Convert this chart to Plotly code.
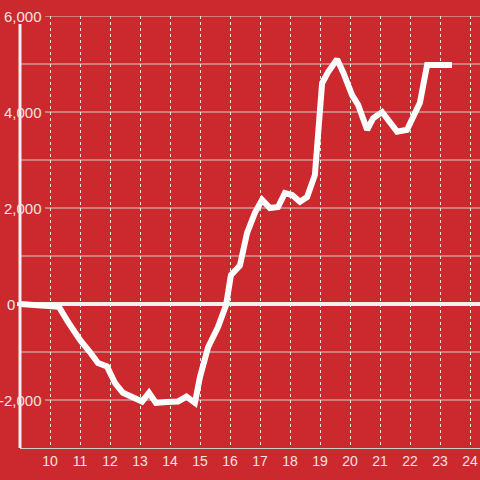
import plotly.graph_objects as go

# ---- data ----
x_vals = [9.0, 9.67, 10.3, 10.6, 11.0, 11.33, 11.6, 11.9, 12.17, 12.43, 12.73, 13.07,
          13.3, 13.53, 13.9, 14.27, 14.55, 14.83, 15.0, 15.27, 15.6, 15.87, 16.03, 16.33,
          16.57, 16.83, 17.07, 17.33, 17.6, 17.83, 18.07, 18.33, 18.57, 18.83, 19.07,
          19.27, 19.57, 19.77, 20.07, 20.27, 20.57, 20.77, 21.07, 21.33, 21.57, 21.9,
          22.1, 22.33, 22.57, 23.4]
y_vals = [0, -20, -60, -375, -750, -1000, -1230, -1300, -1650, -1850, -1950, -2030,
          -1850, -2060, -2040, -2030, -1930, -2060, -1520, -900, -480, -20, 600, 800,
          1480, 1900, 2170, 2000, 2020, 2310, 2270, 2130, 2230, 2690, 4600,
          4830, 5100, 4830, 4350, 4150, 3630, 3870, 4000, 3800, 3590, 3630,
          3900, 4190, 4980, 4980]

x_ticks = list(range(10, 25))
x_tick_labels = [str(v) for v in x_ticks]
y_grid = [-2000, -1000, 1000, 2000, 3000, 4000, 5000, 6000]
y_label_vals = [-2000, 0, 2000, 4000, 6000]
y_label_text = ["-2,000", "0", "2,000", "4,000", "6,000"]

BG = "#cc292e"
TXT = "#f3e2e2"
GRID = "#cfcfcf"

W, H = 480, 480
ML, MR, MT, MB = 20, 0, 16, 32
pw = W - ML - MR
ph = H - MT - MB

def px_to_paper_x(px):
    return (px - ML) / pw

def px_to_paper_y(py):
    return (H - MB - py) / ph

fig = go.Figure()
fig.add_trace(go.Scatter(x=x_vals, y=y_vals, mode="lines",
                         line=dict(color="#ffffff", width=6), hoverinfo="skip"))

shapes = []
for v in y_grid:
    start = px_to_paper_x(45) if v in y_label_vals else 0
    shapes.append(dict(type="line", xref="paper", yref="y", x0=start, x1=1, y0=v, y1=v,
                       line=dict(color=GRID, width=1), layer="below"))
# zero line
shapes.append(dict(type="line", xref="paper", yref="y", x0=px_to_paper_x(17), x1=1, y0=0, y1=0,
                   line=dict(color="#f4f0f0", width=4), layer="below"))
# left axis line
shapes.append(dict(type="line", xref="paper", yref="paper", x0=0, x1=0,
                   y0=0, y1=px_to_paper_y(24),
                   line=dict(color="#f4f0f0", width=3), layer="above"))

annotations = []
for v, t in zip(y_label_vals, y_label_text):
    xr = px_to_paper_x(17) if t == "0" else px_to_paper_x(44)
    annotations.append(dict(x=xr, xref="paper", y=v, yref="y", text=t, showarrow=False,
                            xanchor="right", yanchor="middle",
                            font=dict(family="Liberation Sans, Arial, sans-serif", size=15, color=TXT)))

fig.update_layout(
    width=W, height=H,
    margin=dict(l=ML, r=MR, t=MT, b=MB, autoexpand=False),
    paper_bgcolor=BG, plot_bgcolor=BG,
    showlegend=False,
    shapes=shapes, annotations=annotations,
    font=dict(family="Liberation Sans, Arial, sans-serif", size=14, color=TXT),
)
fig.update_xaxes(range=[9, 9 + pw / 30], tickvals=x_ticks, ticktext=x_tick_labels,
                 showgrid=True, gridcolor="#e8e8e8", griddash="3px,3px", gridwidth=1,
                 showline=True, linecolor=GRID, linewidth=1, zeroline=False, automargin=False,
                 ticks="", tickfont=dict(size=14, color=TXT), fixedrange=True)
fig.update_yaxes(range=[-3000, 6000], showgrid=False, zeroline=False, showticklabels=False,
                 showline=False, fixedrange=True, automargin=False)

fig.write_html("out.html", config={"displayModeBar": False},
               post_script="document.body.style.margin='0';document.body.style.background='%s';" % BG)
